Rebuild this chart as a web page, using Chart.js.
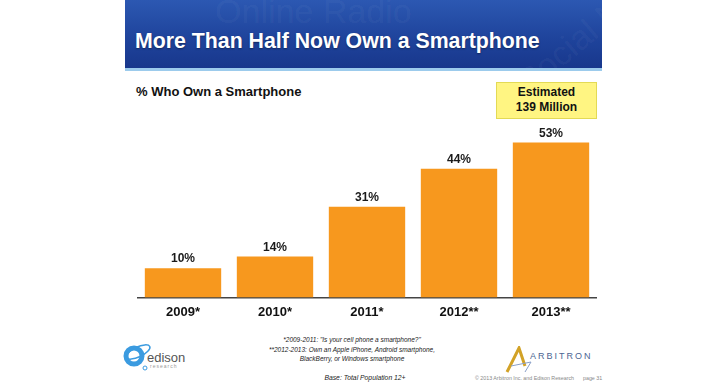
<!DOCTYPE html>
<html lang="en">
<head>
    <meta charset="UTF-8">
    <title>More Than Half Now Own a Smartphone</title>
    <script src="https://cdn.jsdelivr.net/npm/chart.js"></script>
    <style>
        body {
            margin: 0;
            width: 724px;
            height: 390px;
            background: #fff;
            font-family: "Liberation Sans", Arial, sans-serif;
            position: relative;
            overflow: hidden;
        }
        .header {
            position: absolute;
            left: 125px;
            top: 0;
            width: 477px;
            height: 68px;
            background: linear-gradient(180deg, #2c58b2 0%, #1f449c 55%, #18378c 100%);
            border-bottom: 3px solid #9ccbec;
            overflow: hidden;
        }
        .header .wm {
            position: absolute;
            color: rgba(255, 255, 255, 0.05);
            font-size: 34px;
            white-space: nowrap;
        }
        .header h1 {
            position: absolute;
            left: 10px;
            top: 29px;
            margin: 0;
            color: #fff;
            font-size: 21.3px;
            font-weight: bold;
            text-shadow: 0 1px 2px rgba(0, 0, 0, 0.4);
        }
        .subtitle {
            position: absolute;
            left: 136px;
            top: 84px;
            font-size: 13px;
            font-weight: bold;
            color: #111;
        }
        .callout {
            position: absolute;
            left: 496px;
            top: 82px;
            width: 99px;
            height: 33px;
            background: #fff582;
            border: 1px solid #e3da55;
            text-align: center;
            font-size: 12px;
            font-weight: bold;
            line-height: 15px;
            padding-top: 2px;
            color: #111;
        }
        #chart {
            position: absolute;
            left: 137px;
            top: 122px;
        }
        .notes {
            position: absolute;
            left: 252px;
            width: 200px;
            top: 335px;
            text-align: center;
            font-size: 6.5px;
            font-style: italic;
            line-height: 9.5px;
            color: #222;
        }
        .base {
            position: absolute;
            left: 300px;
            width: 130px;
            top: 374px;
            text-align: center;
            font-size: 6.8px;
            font-style: italic;
            color: #222;
        }
        .edison {
            position: absolute;
            left: 123px;
            top: 340px;
        }
        .edison .name {
            position: absolute;
            left: 24px;
            top: 10px;
            font-size: 13px;
            color: #555;
        }
        .edison .sub {
            position: absolute;
            left: 27px;
            top: 23px;
            font-size: 5px;
            letter-spacing: 1px;
            color: #999;
        }
        .arbitron {
            position: absolute;
            left: 505px;
            top: 346px;
        }
        .arbitron .name {
            position: absolute;
            left: 25px;
            top: 5px;
            font-size: 9px;
            letter-spacing: 2px;
            color: #4b6592;
        }
        .copy {
            position: absolute;
            left: 475px;
            top: 375px;
            font-size: 5.3px;
            color: #888;
            white-space: nowrap;
        }
        .page {
            position: absolute;
            left: 583px;
            top: 375px;
            font-size: 5.3px;
            color: #888;
        }
    </style>
</head>
<body>
    <div class="header">
        <div class="wm" style="left:90px; top:-8px;">Online Radio</div>
        <div class="wm" style="left:380px; top:20px; transform: rotate(-40deg);">Social Ne</div>
        <h1>More Than Half Now Own a Smartphone</h1>
    </div>

    <div class="subtitle">% Who Own a Smartphone</div>
    <div class="callout">Estimated<br>139 Million</div>

    <canvas id="chart" width="460" height="205"></canvas>

    <div class="notes">
        *2009-2011: "Is your cell phone a smartphone?"<br>
        **2012-2013: Own an Apple iPhone, Android smartphone,<br>
        BlackBerry, or Windows smartphone
    </div>
    <div class="base">Base: Total Population 12+</div>

    <!-- logos -->
    <div class="edison">
        <svg width="30" height="32" viewBox="0 0 30 32">
            <circle cx="11" cy="16" r="8" fill="none" stroke="#3b9be0" stroke-width="5"/>
            <ellipse cx="15" cy="12" rx="13" ry="5" fill="none" stroke="#3b9be0" stroke-width="1.5" transform="rotate(-25 15 12)"/>
            <circle cx="22" cy="28" r="2" fill="none" stroke="#3b9be0" stroke-width="1"/>
        </svg>
        <span class="name">edison</span>
        <span class="sub">research</span>
    </div>
    <div class="arbitron">
        <svg width="28" height="28" viewBox="0 0 28 28">
            <polyline points="2,26 14,2 20,20" fill="none" stroke="#d2a227" stroke-width="3"/>
            <polyline points="6,20 26,16 20,26" fill="none" stroke="#8aa0c8" stroke-width="1"/>
        </svg>
        <span class="name">ARBITRON</span>
    </div>
    <div class="copy">© 2013 Arbitron Inc. and Edison Research</div>
    <div class="page">page 31</div>

    <script>
        // survey years (asterisks mark which question was asked)
        const years = ['2009*', '2010*', '2011*', '2012**', '2013**'];
        // % who own a smartphone
        const shares = [10, 14, 31, 44, 53];

        // draws the "NN%" label above each bar
        const valueLabels = {
            id: 'valueLabels',
            afterDatasetsDraw(chart) {
                const ctx = chart.ctx;
                const meta = chart.getDatasetMeta(0);
                ctx.save();
                ctx.font = 'bold 12px "Liberation Sans", Arial, sans-serif';
                ctx.fillStyle = '#1a1a1a';
                ctx.textAlign = 'center';
                ctx.textBaseline = 'middle';
                meta.data.forEach((bar, i) => {
                    ctx.fillText(shares[i] + '%', bar.x, bar.y - 9);
                });
                ctx.restore();
            }
        };

        const ctx = document.getElementById('chart').getContext('2d');
        const chart = new Chart(ctx, {
            type: 'bar',
            data: {
                labels: years,
                datasets: [{
                    data: shares,
                    backgroundColor: '#f7981e',
                    borderWidth: 0,
                    categoryPercentage: 1,
                    barPercentage: 0.83
                }]
            },
            options: {
                responsive: false,
                animation: false,
                layout: { padding: 0 },
                plugins: {
                    legend: { display: false },
                    tooltip: { enabled: false }
                },
                scales: {
                    y: {
                        display: false,
                        min: 0,
                        max: 60
                    },
                    x: {
                        grid: { display: false, drawTicks: false },
                        border: { display: true, color: '#444', width: 1.5 },
                        ticks: {
                            padding: 7,
                            color: '#111',
                            font: { family: '"Liberation Sans", Arial, sans-serif', size: 13, weight: 'bold' }
                        }
                    }
                }
            },
            plugins: [valueLabels]
        });
    </script>
</body>
</html>
